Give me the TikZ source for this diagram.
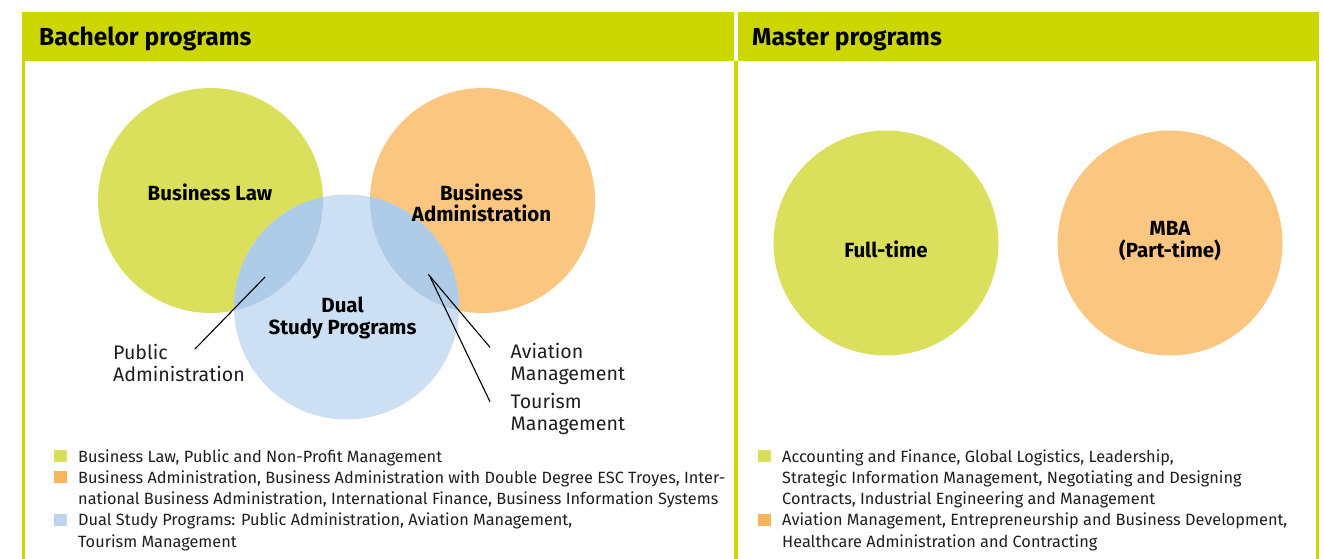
\documentclass[tikz,border=0pt]{standalone}
\usepackage{fontspec}
\setmainfont{Fira Sans}
\definecolor{hdr}{RGB}{204,214,0}
\definecolor{cgreen}{RGB}{218,223,92}
\definecolor{corange}{RGB}{250,198,128}
\definecolor{cblue}{RGB}{205,223,243}
\definecolor{cblueov}{RGB}{174,203,232}
\definecolor{lgreen}{RGB}{217,222,90}
\definecolor{lorange}{RGB}{248,182,90}
\definecolor{lblue}{RGB}{188,212,238}
\definecolor{txt}{RGB}{30,30,30}
\begin{document}
\begin{tikzpicture}[x=1pt,y=-1pt,
  venn/.style={circle, inner sep=0pt, minimum size=225pt, draw=none},
  lbl/.style={font=\fontsize{20.5}{21.7}\selectfont\bfseries, align=center, anchor=base, text=black, inner sep=0pt},
  side/.style={font=\fontsize{19.6}{21.8}\selectfont, align=left, anchor=base west, text=txt, inner sep=0pt},
  leg/.style={font=\fontsize{16.3}{21.3}\selectfont, align=left, anchor=base west, text=txt, inner sep=0pt},
  sq/.style={minimum width=13pt, minimum height=12pt, inner sep=0pt, draw=none},
  hdrtxt/.style={font=\fontsize{24.6}{28}\selectfont\bfseries, anchor=base west, inner sep=0pt},
  pointer/.style={draw=black, line width=1.1pt}
]
\useasboundingbox (0,0) rectangle (1324,559);
% frame
\fill[hdr] (22,12) rectangle (734,61);
\fill[hdr] (738,12) rectangle (1319,61);
\fill[hdr] (22,61) rectangle (25,559);
\fill[hdr] (734,61) rectangle (738,559);
\fill[hdr] (1316,61) rectangle (1319,559);
\node[hdrtxt] (hb) at (39,46) {Bachelor programs};
\node[hdrtxt] (hm) at (752,46) {Master programs};
% bachelor venn
\node[venn, fill=cgreen] (bl) at (210.5,200.5) {};
\node[venn, fill=corange] (ba) at (482.5,200.5) {};
\node[venn, fill=cblue] (ds) at (346.5,307) {};
\begin{scope}
  \clip (bl.center) circle[radius=112.5];
  \fill[cblueov] (ds.center) circle[radius=112.5];
\end{scope}
\begin{scope}
  \clip (ba.center) circle[radius=112.5];
  \fill[cblueov] (ds.center) circle[radius=112.5];
\end{scope}
\node[lbl] (tbl) at (210,200) {Business Law};
\node[lbl] (tba) at (481.5,221.7) {Business\\Administration};
\node[lbl] (tds) at (342.5,334) {Dual\\Study Programs};
% pointers
\coordinate (pa1) at (195,349);
\coordinate (pa2) at (265,277);
\coordinate (av1) at (428.3,274.3);
\coordinate (av2) at (490,347.3);
\coordinate (to1) at (430,276.7);
\coordinate (to2) at (490,401.7);
\draw[pointer] (pa1) -- (pa2);
\draw[pointer] (av1) -- (av2);
\draw[pointer] (to1) -- (to2);
\node[side] (tpa) at (113,381) {Public\\Administration};
\node[side] (tav) at (510.5,380) {Aviation\\Management};
\node[side] (tto) at (510.5,430) {Tourism\\Management};
% master circles
\node[venn, fill=cgreen] (ft) at (886,243) {};
\node[venn, fill=corange] (mba) at (1170,243) {};
\node[lbl] (tft) at (886,257) {Full-time};
\node[lbl] (tmba) at (1170,257.3) {MBA\\(Part-time)};
% bachelor legend
\node[sq, fill=lgreen] (s1) at (60,456) {};
\node[sq, fill=lorange] (s2) at (60,477.3) {};
\node[sq, fill=lblue] (s3) at (60,519.9) {};
\node[leg] (l1) at (78,462) {Business Law, Public and Non-Profit Management};
\node[leg] (l2) at (78,504.6) {Business Administration, Business Administration with Double Degree ESC Troyes, Inter-\\national Business Administration, International Finance, Business Information Systems};
\node[leg] (l3) at (78,547.2) {Dual Study Programs: Public Administration, Aviation Management,\\Tourism Management};
% master legend
\node[sq, fill=lgreen] (s4) at (764,456) {};
\node[sq, fill=lorange] (s5) at (764,519.9) {};
\node[leg] (l4) at (782,504.6) {Accounting and Finance, Global Logistics, Leadership,\\Strategic Information Management, Negotiating and Designing\\Contracts, Industrial Engineering and Management};
\node[leg] (l5) at (782,547.2) {Aviation Management, Entrepreneurship and Business Development,\\Healthcare Administration and Contracting};
\end{tikzpicture}
\end{document}
